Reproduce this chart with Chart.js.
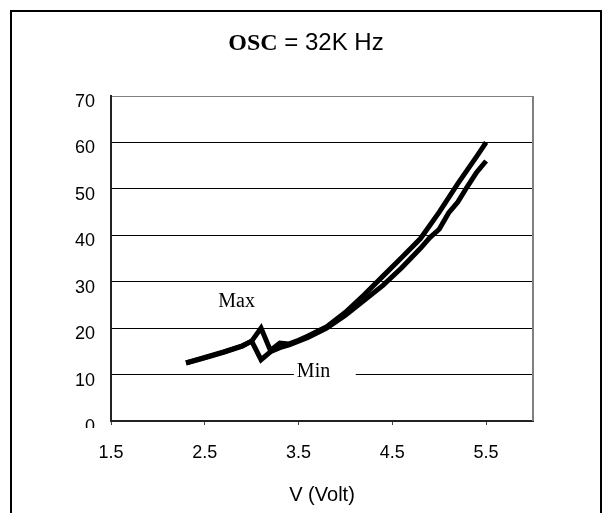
<!DOCTYPE html>
<html>
<head>
<meta charset="utf-8">
<script src="https://cdn.jsdelivr.net/npm/chart.js@4.4.0/dist/chart.umd.min.js"></script>
<style>
  html, body { margin: 0; padding: 0; background: #fff; }
  canvas { display: block; }
</style>
</head>
<body>
<canvas id="chart-area" width="603" height="513"></canvas>
<script>
// Max krivulja
const voltsMax = [2.3, 2.5, 2.7, 2.9, 3.0, 3.1, 3.2, 3.3, 3.4, 3.5, 3.6, 3.8, 4.0, 4.2, 4.4, 4.6, 4.8, 5.0, 5.2, 5.4, 5.5];
const valuesMax = [12.5, 13.7, 14.9, 16.2, 17.2, 20.0, 15.2, 16.8, 16.6, 17.4, 18.3, 20.3, 23.4, 27.2, 31.2, 35.2, 39.3, 45.0, 51.2, 57.0, 60.0];

// Min krivulja
const voltsMin = [2.3, 2.5, 2.7, 2.9, 3.0, 3.1, 3.2, 3.3, 3.4, 3.5, 3.6, 3.8, 4.0, 4.2, 4.4, 4.6, 4.8, 4.9, 5.0, 5.1, 5.2, 5.3, 5.4, 5.5];
const valuesMin = [12.5, 13.6, 14.8, 16.1, 17.2, 13.2, 14.9, 15.8, 16.4, 17.2, 18.0, 20.0, 22.8, 26.0, 29.2, 33.0, 37.2, 39.5, 41.3, 44.8, 47.2, 50.5, 53.6, 56.0];

const xTicks = [1.5, 2.5, 3.5, 4.5, 5.5];
const yTicks = [0, 10, 20, 30, 40, 50, 60, 70];

function toPoints(xs, ys) {
    return xs.map((x, i) => ({ x: x, y: ys[i] }));
}

const frame = {
    id: 'frame',
    beforeDraw(chart) {
        const ctx = chart.ctx;
        ctx.save();
        ctx.fillStyle = '#fff';
        ctx.fillRect(0, 0, chart.width, chart.height);

        // vanjski okvir (bez donjeg ruba)
        ctx.strokeStyle = '#000';
        ctx.lineWidth = 2;
        ctx.beginPath();
        ctx.moveTo(11, chart.height + 5);
        ctx.lineTo(11, 11);
        ctx.lineTo(601, 11);
        ctx.lineTo(601, chart.height + 5);
        ctx.stroke();

        // naslov: OSC = 32K Hz
        ctx.fillStyle = '#000';
        ctx.textBaseline = 'alphabetic';
        ctx.textAlign = 'left';
        ctx.font = 'bold 24px "Liberation Serif"';
        const w1 = ctx.measureText('OSC').width;
        ctx.font = '24px "Liberation Sans"';
        const w2 = ctx.measureText(' = 32K Hz').width;
        let x = 306 - (w1 + w2) / 2;
        ctx.font = 'bold 24px "Liberation Serif"';
        ctx.fillText('OSC', x, 50);
        ctx.font = '24px "Liberation Sans"';
        ctx.fillText(' = 32K Hz', x + w1, 50);
        ctx.restore();
    },
    beforeDatasetsDraw(chart) {
        const ctx = chart.ctx;
        const a = chart.chartArea;
        ctx.save();
        ctx.strokeStyle = '#808080';
        ctx.lineWidth = 2;
        ctx.beginPath();
        ctx.moveTo(a.right, a.top);
        ctx.lineTo(a.right, a.bottom);
        ctx.stroke();
        ctx.restore();
    },
    afterDraw(chart) {
        const ctx = chart.ctx;
        const a = chart.chartArea;
        const xs = chart.scales.x;
        const ys = chart.scales.y;
        ctx.save();

        // oznaka "0" je u originalu odrezana
        ctx.fillStyle = '#fff';
        ctx.fillRect(50, a.bottom + 7, a.left - 52, 12);

        ctx.font = '20px "Liberation Serif"';
        ctx.fillStyle = '#000';
        ctx.textBaseline = 'alphabetic';

        ctx.textAlign = 'center';
        ctx.fillText('Max', xs.getPixelForValue(2.84), ys.getPixelForValue(24.5));

        // okvir za "Min" prekriva liniju mreže
        const bx1 = xs.getPixelForValue(3.45);
        const bx2 = xs.getPixelForValue(4.11);
        const by1 = ys.getPixelForValue(13.1);
        const by2 = ys.getPixelForValue(8.8);
        ctx.fillStyle = '#fff';
        ctx.fillRect(bx1, by1, bx2 - bx1, by2 - by1);
        ctx.fillStyle = '#000';
        ctx.textAlign = 'left';
        ctx.fillText('Min', bx1 + 3, ys.getPixelForValue(9.5));
        ctx.restore();
    }
};

const config = {
    type: 'line',
    data: {
        datasets: [
            {
                label: 'Max',
                data: toPoints(voltsMax, valuesMax),
                borderColor: '#000',
                borderWidth: 5,
                pointRadius: 0,
                tension: 0,
                fill: false,
            },
            {
                label: 'Min',
                data: toPoints(voltsMin, valuesMin),
                borderColor: '#000',
                borderWidth: 5,
                pointRadius: 0,
                tension: 0,
                fill: false,
            },
        ],
    },
    options: {
        responsive: false,
        animation: false,
        events: [],
        layout: {
            padding: { top: 96, right: 70, left: 0, bottom: 0 },
        },
        plugins: {
            legend: { display: false },
            tooltip: { enabled: false },
        },
        scales: {
            x: {
                type: 'linear',
                min: 1.5,
                max: 6.0,
                afterBuildTicks: (scale) => {
                    scale.ticks = xTicks.map((v) => ({ value: v }));
                },
                afterFit: (scale) => {
                    scale.height = 92;
                },
                grid: {
                    drawOnChartArea: false,
                    drawTicks: true,
                    tickLength: 4,
                    color: '#444',
                },
                border: { display: true, color: '#222', width: 2 },
                ticks: {
                    padding: 17,
                    color: '#000',
                    maxRotation: 0,
                    font: { family: 'Liberation Sans', size: 18 },
                    callback: (v) => v.toFixed(1),
                },
                title: {
                    display: true,
                    text: 'V (Volt)',
                    color: '#000',
                    font: { family: 'Liberation Sans', size: 20 },
                    padding: { top: 0, bottom: 6 },
                },
            },
            y: {
                type: 'linear',
                min: 0,
                max: 70,
                afterBuildTicks: (scale) => {
                    scale.ticks = yTicks.map((v) => ({ value: v }));
                },
                afterFit: (scale) => {
                    scale.width = 111;
                },
                grid: {
                    drawTicks: false,
                    color: (c) => (c.tick && c.tick.value === 70 ? '#808080' : '#000'),
                    lineWidth: 1,
                },
                border: { display: true, color: '#222', width: 2 },
                ticks: {
                    padding: 16,
                    labelOffset: 6,
                    color: '#000',
                    font: { family: 'Liberation Sans', size: 18 },
                },
            },
        },
    },
    plugins: [frame],
};

const ctx = document.getElementById('chart-area').getContext('2d');
new Chart(ctx, config);
</script>
</body>
</html>
